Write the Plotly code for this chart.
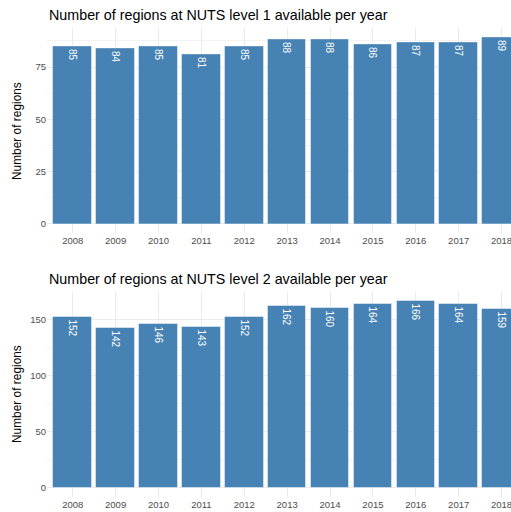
import plotly.graph_objects as go
from plotly.subplots import make_subplots

years = [2008, 2009, 2010, 2011, 2012, 2013, 2014, 2015, 2016, 2017, 2018]
nuts1 = [85, 84, 85, 81, 85, 88, 88, 86, 87, 87, 89]
nuts2 = [152, 142, 146, 143, 152, 162, 160, 164, 166, 164, 159]

titles = ["Number of regions at NUTS level 1 available per year",
          "Number of regions at NUTS level 2 available per year"]

W, H = 511, 512
L = 47


def py(p):
    # pixel row -> paper y
    return 1 - p / H


fig = make_subplots(rows=2, cols=1)

for i, vals in enumerate([nuts1, nuts2], start=1):
    fig.add_trace(go.Bar(
        x=years, y=vals, width=0.9, cliponaxis=False,
        marker=dict(color="#4682B4", line=dict(color="rgba(255,255,255,0.45)", width=1)),
        text=[str(v) for v in vals], textposition="inside", textangle=90,
        insidetextanchor="end", textfont=dict(color="white", size=10, family="Liberation Sans"),
        showlegend=False), row=i, col=1)

grid = "#ebebeb"
tick_font = dict(color="#4d4d4d", size=9.5, family="Liberation Sans")

fig.update_xaxes(range=[2007.4, 2018.22], tickvals=years, showgrid=True, gridcolor=grid,
                 gridwidth=1, zeroline=False, ticks="", tickfont=tick_font, showline=False,
                 automargin=False, ticklabeloverflow="allow")

fig.update_yaxes(range=[-4.45, 93.45], tickvals=[0, 25, 50, 75], row=1, col=1,
                 minor=dict(tickvals=[12.5, 37.5, 62.5, 87.5], showgrid=True, gridcolor="#f3f3f3", gridwidth=0.6))
fig.update_yaxes(range=[-8.3, 174.3], tickvals=[0, 50, 100, 150], row=2, col=1,
                 minor=dict(tickvals=[25, 75, 125], showgrid=True, gridcolor="#f3f3f3", gridwidth=0.6))
fig.update_yaxes(showgrid=True, gridcolor=grid, gridwidth=1, zeroline=False, ticks="",
                 tickfont=tick_font, showline=False, automargin=False)

fig.update_layout(
    width=W, height=H,
    margin=dict(l=L, r=0, t=0, b=0, autoexpand=False),
    paper_bgcolor="white", plot_bgcolor="white",
    font=dict(family="Liberation Sans"),
    bargap=0,
    xaxis=dict(domain=[0, 1]), xaxis2=dict(domain=[0, 1]),
    yaxis=dict(domain=[py(233.3), py(28.4)]),
    yaxis2=dict(domain=[py(497.3), py(292)]),
)

for t, ty, cy in [(titles[0], 15, 131), (titles[1], 279, 394)]:
    fig.add_annotation(text=t, xref="paper", yref="paper", x=0, y=py(ty),
                       xanchor="left", yanchor="middle", showarrow=False,
                       font=dict(size=14.3, color="black"))
    fig.add_annotation(text="Number of regions", xref="paper", yref="paper",
                       x=(17 - L) / (W - L), y=py(cy), textangle=-90,
                       xanchor="center", yanchor="middle", showarrow=False,
                       font=dict(size=11.9, color="black"))

# drop the default 8px page margin so the figure fills the window
fig.write_html("out.html", config={"displayModeBar": False},
               post_script="document.body.style.margin='0';")
